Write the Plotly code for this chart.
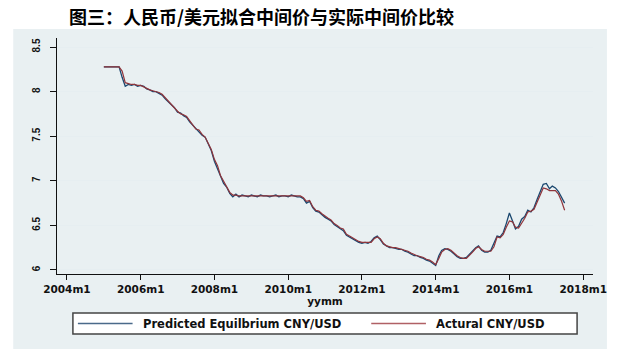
import plotly.graph_objects as go

# ---------------- data ----------------
months = [f"{y}-{m:02d}-01" for y in range(2005, 2018) for m in range(1, 13)][:151]

actual = [
    # 2005
    8.2765, 8.2765, 8.2765, 8.2765, 8.2765, 8.2765, 8.23, 8.10, 8.09, 8.08, 8.08, 8.07,
    # 2006
    8.07, 8.05, 8.04, 8.02, 8.01, 8.00, 7.99, 7.97, 7.93, 7.90, 7.86, 7.82,
    # 2007
    7.78, 7.75, 7.74, 7.72, 7.67, 7.63, 7.58, 7.57, 7.52, 7.49, 7.42, 7.35,
    # 2008
    7.24, 7.17, 7.06, 6.99, 6.94, 6.87, 6.84, 6.84, 6.83, 6.83, 6.83, 6.83,
    # 2009
    6.83, 6.83, 6.83, 6.83, 6.83, 6.83, 6.83, 6.83, 6.83, 6.83, 6.83, 6.83,
    # 2010
    6.83, 6.83, 6.83, 6.83, 6.83, 6.81, 6.77, 6.78, 6.71, 6.67, 6.66, 6.63,
    # 2011
    6.60, 6.58, 6.56, 6.52, 6.50, 6.47, 6.46, 6.40, 6.38, 6.36, 6.34, 6.32,
    # 2012
    6.31, 6.31, 6.31, 6.31, 6.35, 6.37, 6.35, 6.30, 6.27, 6.26, 6.25, 6.25,
    # 2013
    6.24, 6.23, 6.22, 6.21, 6.19, 6.17, 6.16, 6.15, 6.14, 6.12, 6.11, 6.09,
    # 2014
    6.06, 6.13, 6.20, 6.23, 6.24, 6.22, 6.19, 6.16, 6.14, 6.13, 6.13, 6.16,
    # 2015
    6.20, 6.24, 6.26, 6.23, 6.21, 6.21, 6.21, 6.26, 6.37, 6.36, 6.40, 6.48,
    # 2016
    6.55, 6.54, 6.48, 6.47, 6.52, 6.58, 6.65, 6.66, 6.68, 6.76, 6.85, 6.92,
    # 2017
    6.91, 6.89, 6.89, 6.89, 6.85, 6.77, 6.67,
]

predicted = [
    # 2005
    8.2765, 8.2765, 8.2765, 8.2765, 8.2765, 8.2765, 8.16, 8.06, 8.08, 8.07, 8.08, 8.06,
    # 2006
    8.07, 8.06, 8.03, 8.02, 8.00, 8.00, 7.98, 7.96, 7.92, 7.89, 7.85, 7.82,
    # 2007
    7.77, 7.76, 7.73, 7.71, 7.66, 7.62, 7.59, 7.55, 7.51, 7.49, 7.41, 7.34,
    # 2008
    7.22, 7.14, 7.05, 6.97, 6.93, 6.86, 6.82, 6.85, 6.82, 6.84, 6.83, 6.82,
    # 2009
    6.84, 6.83, 6.82, 6.84, 6.83, 6.83, 6.82, 6.83, 6.84, 6.82, 6.83, 6.83,
    # 2010
    6.82, 6.84, 6.83, 6.82, 6.82, 6.80, 6.75, 6.77, 6.70, 6.66, 6.65, 6.62,
    # 2011
    6.59, 6.57, 6.55, 6.51, 6.49, 6.46, 6.44, 6.39, 6.37, 6.35, 6.33, 6.31,
    # 2012
    6.30, 6.31, 6.30, 6.32, 6.36, 6.38, 6.34, 6.29, 6.27, 6.25, 6.25, 6.24,
    # 2013
    6.23, 6.23, 6.21, 6.20, 6.18, 6.16, 6.16, 6.14, 6.13, 6.11, 6.10, 6.08,
    # 2014
    6.05, 6.16, 6.22, 6.24, 6.23, 6.21, 6.18, 6.15, 6.13, 6.13, 6.14, 6.18,
    # 2015
    6.21, 6.25, 6.27, 6.22, 6.20, 6.20, 6.22, 6.30, 6.38, 6.37, 6.42, 6.52,
    # 2016
    6.64, 6.55, 6.46, 6.49, 6.57, 6.60, 6.67, 6.65, 6.70, 6.79, 6.88, 6.96,
    # 2017
    6.97, 6.91, 6.94, 6.92, 6.88, 6.82, 6.75,
]

x_tick_vals = [f"{y}-01-01" for y in range(2004, 2019, 2)]
x_tick_text = [f"{y}m1" for y in range(2004, 2019, 2)]
y_tick_vals = [6, 6.5, 7, 7.5, 8, 8.5]
y_tick_text = ["6", "6.5", "7", "7.5", "8", "8.5"]

series_names = ["Predicted Equilbrium CNY/USD", "Actural CNY/USD"]
colors = ["#1a476f", "#90353b"]
title_text = "图三：人民币/美元拟合中间价与实际中间价比较"

# ---------------- layout helpers ----------------
W, H = 619, 356
PL, PR, PT, PB = 57, 596, 38, 274  # plot area in pixel coords


def px(xp):
    return (xp - PL) / (PR - PL)


def py(yp):
    return (PB - yp) / (PB - PT)


fig = go.Figure()
fig.add_trace(go.Scatter(x=months, y=predicted, mode="lines", name=series_names[0],
                         line=dict(color=colors[0], width=1.3), showlegend=False))
fig.add_trace(go.Scatter(x=months, y=actual, mode="lines", name=series_names[1],
                         line=dict(color=colors[1], width=1.2), showlegend=False))

bg = "#e9f0f2"
grid = "#e6eef1"
tfont = dict(family="DejaVu Sans", size=10.5, color="#111111")

shapes = [
    dict(type="rect", xref="paper", yref="paper", x0=px(13), x1=px(610), y0=py(349), y1=py(29),
         fillcolor=bg, line=dict(width=0), layer="below"),
    dict(type="rect", xref="paper", yref="paper", x0=px(73), x1=px(580), y0=py(334), y1=py(313),
         fillcolor="white", line=dict(color="#444444", width=1.5)),
    dict(type="line", xref="paper", yref="paper", x0=px(78), x1=px(133), y0=py(323.5), y1=py(323.5),
         line=dict(color="#4a6a8a", width=1.5)),
    dict(type="line", xref="paper", yref="paper", x0=px(373), x1=px(428), y0=py(323.5), y1=py(323.5),
         line=dict(color="#b06065", width=1.5)),
]

annotations = [
    dict(text="<b>" + title_text + "</b>", xref="paper", yref="paper", x=px(263), y=py(16),
         xanchor="center", yanchor="middle", showarrow=False,
         font=dict(family="Noto Sans CJK SC", size=18, color="black")),
    dict(text="<b>" + series_names[0] + "</b>", xref="paper", yref="paper", x=px(141), y=py(323.5),
         xanchor="left", yanchor="middle", showarrow=False,
         font=dict(family="DejaVu Sans", size=11.5, color="#111111")),
    dict(text="<b>" + series_names[1] + "</b>", xref="paper", yref="paper", x=px(436), y=py(323.5),
         xanchor="left", yanchor="middle", showarrow=False,
         font=dict(family="DejaVu Sans", size=11.5, color="#111111")),
]

fig.update_layout(
    width=W, height=H,
    margin=dict(l=PL, r=W - PR, t=PT, b=H - PB, pad=0),
    paper_bgcolor="white", plot_bgcolor="white",
    shapes=shapes, annotations=annotations,
    showlegend=False,
    xaxis=dict(
        type="date", range=["2003-09-25", "2018-04-08"],
        tickvals=x_tick_vals, ticktext=["<b>" + t + "</b>" for t in x_tick_text],
        ticks="outside", ticklen=5, tickcolor="#111111", tickwidth=1,
        showline=True, linecolor="#111111", linewidth=1,
        showgrid=False, zeroline=False, tickfont=tfont,
        title=dict(text="<b>yymm</b>", font=tfont, standoff=1),
    ),
    yaxis=dict(
        range=[5.955, 8.601],
        tickvals=y_tick_vals, ticktext=["<b>" + t + "</b>" for t in y_tick_text],
        tickangle=-90,
        ticks="outside", ticklen=6, tickcolor="#111111", tickwidth=1,
        showline=True, linecolor="#111111", linewidth=1,
        showgrid=True, gridcolor=grid, gridwidth=1, zeroline=False,
        tickfont=dict(family="Liberation Sans", size=10, color="#111111"),
        ticklabelstandoff=6,
    ),
)

fig.write_html("out.html", config={"displayModeBar": False},
               post_script="document.body.style.margin='0';document.body.style.padding='0';")
